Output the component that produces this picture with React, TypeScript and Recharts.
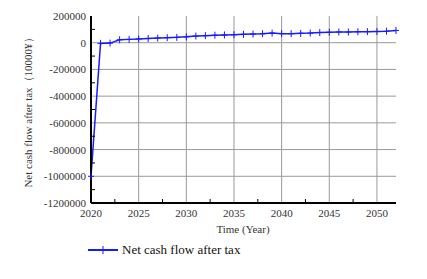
import React from "react";
import {
  LineChart,
  Line,
  XAxis,
  YAxis,
  CartesianGrid,
} from "recharts";

const years = [
  2020, 2021, 2022, 2023, 2024, 2025, 2026, 2027, 2028, 2029, 2030, 2031, 2032,
  2033, 2034, 2035, 2036, 2037, 2038, 2039, 2040, 2041, 2042, 2043, 2044, 2045,
  2046, 2047, 2048, 2049, 2050, 2051, 2052,
];
const netCashFlow = [
  -1000000, -5000, -3000, 22000, 25000, 28000, 32000, 35000, 38000, 40000, 44000,
  50000, 53000, 56000, 58000, 60000, 63000, 65000, 67000, 72000, 68000, 68000,
  70000, 72000, 76000, 78000, 80000, 80000, 82000, 83000, 84000, 86000, 92000,
];
const xTicks = [
  2020, 2022.5, 2025, 2027.5, 2030, 2032.5, 2035, 2037.5, 2040, 2042.5, 2045,
  2047.5, 2050,
];
const yTicks = [
  -1200000, -1100000, -1000000, -900000, -800000, -700000, -600000, -500000,
  -400000, -300000, -200000, -100000, 0, 100000, 200000,
];
const xGrid = [2025, 2030, 2035, 2040, 2045, 2050];
const yGrid = [-1000000, -800000, -600000, -400000, -200000, 0];

const data = years.map((y, i) => ({ year: y, value: netCashFlow[i] }));

const FONT = '"Liberation Serif", "Times New Roman", serif';
const BLUE = "#1a1aff";

const XTick = (props: any) => {
  const { x, y, payload } = props;
  const v = payload.value;
  const major = v % 5 === 0;
  return (
    <g>
      <line x1={x} x2={x} y1={y} y2={y - (major ? 0 : 4)} stroke="#000" />
      {major && (
        <text x={x} y={y + 14} textAnchor="middle" fontSize={11} fontFamily={FONT} fill="#333">
          {v}
        </text>
      )}
    </g>
  );
};

const YTick = (props: any) => {
  const { x, y, payload } = props;
  const v = payload.value;
  const major = v % 200000 === 0;
  return (
    <g>
      <line x1={x} x2={x + (major ? 0 : 4)} y1={y} y2={y} stroke="#000" />
      {major && (
        <text x={x - 5} y={y + 4} textAnchor="end" fontSize={11} fontFamily={FONT} fill="#333">
          {v === 0 ? "0" : v < 0 ? `-${Math.abs(v)}` : v}
        </text>
      )}
    </g>
  );
};

const PlusDot = (props: any) => {
  const { cx, cy, index } = props;
  if (cx == null || cy == null) return null;
  return (
    <g key={index}>
      <line x1={cx - 3} x2={cx + 3} y1={cy} y2={cy} stroke={BLUE} strokeWidth={1} />
      <line x1={cx} x2={cx} y1={cy - 3.5} y2={cy + 3.5} stroke={BLUE} strokeWidth={1} />
    </g>
  );
};

export default function App() {
  return (
    <div style={{ position: "absolute", left: 0, top: 0, width: 427, height: 279, background: "#fff" }}>
      <LineChart
        width={427}
        height={279}
        data={data}
        margin={{ top: 16, right: 31, left: 0, bottom: 46 }}
      >
        <CartesianGrid
          stroke="#999"
          strokeWidth={1}
          verticalValues={xGrid}
          horizontalValues={yGrid}
        />
        <XAxis
          dataKey="year"
          type="number"
          domain={[2020, 2052]}
          ticks={xTicks}
          interval={0}
          tickSize={0}
          tickMargin={0}
          tick={<XTick />}
          tickLine={false}
          axisLine={{ stroke: "#000", strokeWidth: 2 }}
          height={30}
        />
        <XAxis
          xAxisId="top"
          orientation="top"
          dataKey="year"
          type="number"
          domain={[2020, 2052]}
          tick={false}
          tickLine={false}
          axisLine={{ stroke: "#000", strokeWidth: 2 }}
          height={0}
        />
        <YAxis
          type="number"
          domain={[-1200000, 200000]}
          ticks={yTicks}
          interval={0}
          tickSize={0}
          tickMargin={0}
          tick={<YTick />}
          tickLine={false}
          axisLine={{ stroke: "#000", strokeWidth: 2 }}
          width={91}
        />
        <YAxis
          yAxisId="right"
          orientation="right"
          type="number"
          domain={[-1200000, 200000]}
          tick={false}
          tickLine={false}
          axisLine={{ stroke: "#000", strokeWidth: 2 }}
          width={0}
        />
        <Line
          type="linear"
          dataKey="value"
          stroke={BLUE}
          strokeWidth={1.5}
          dot={<PlusDot />}
          activeDot={false}
          isAnimationActive={false}
        />
      </LineChart>
      <div
        style={{
          position: "absolute",
          left: 243,
          top: 223,
          transform: "translateX(-50%)",
          fontFamily: FONT,
          fontSize: 11,
          color: "#333",
          whiteSpace: "nowrap",
        }}
      >
        Time (Year)
      </div>
      <div
        style={{
          position: "absolute",
          left: 28,
          top: 110,
          transform: "translate(-50%, -50%) rotate(-90deg)",
          fontFamily: FONT,
          fontSize: 11,
          color: "#333",
          whiteSpace: "nowrap",
        }}
      >
        Net cash flow after tax（10000¥）
      </div>
      <div
        style={{
          position: "absolute",
          left: 88,
          top: 242,
          display: "flex",
          alignItems: "center",
          fontFamily: FONT,
          fontSize: 13,
          color: "#111",
          whiteSpace: "nowrap",
        }}
      >
        <svg width={30} height={12} style={{ marginRight: 4 }}>
          <line x1={0} x2={30} y1={6} y2={6} stroke={BLUE} strokeWidth={2} />
          <line x1={15} x2={15} y1={2} y2={10} stroke={BLUE} strokeWidth={1} />
        </svg>
        Net cash flow after tax
      </div>
    </div>
  );
}
